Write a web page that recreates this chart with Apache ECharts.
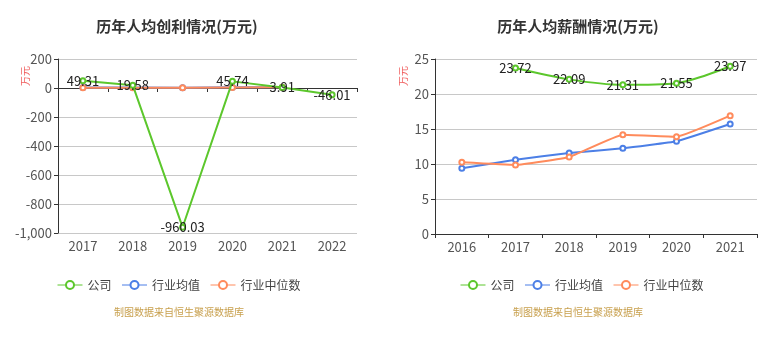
<!DOCTYPE html>
<html><head><meta charset="utf-8">
<script src="https://cdn.jsdelivr.net/npm/echarts@6/dist/echarts.min.js"></script>
<style>html,body{margin:0;padding:0;background:#fff}#c{width:779px;height:337px}</style>
</head><body><div id="c"></div>
<script>
// Left chart: 历年人均创利情况
var profitYears = ['2017','2018','2019','2020','2021','2022'];
var profitCompany = [49.31, 19.58, -960.03, 45.74, 3.91, -46.01];
var profitMean = [3, 4, 2, 5, 6, null];
var profitMedian = [1, 2, 1, 3, 5, null];
var profitTicks = [200, 0, -200, -400, -600, -800, -1000];

// Right chart: 历年人均薪酬情况
var salaryYears = ['2016','2017','2018','2019','2020','2021'];
var salaryCompany = [null, 23.72, 22.09, 21.31, 21.55, 23.97];
var salaryMean = [9.39, 10.6, 11.57, 12.24, 13.24, 15.71];
var salaryMedian = [10.24, 9.86, 11.0, 14.19, 13.9, 16.9];

var seriesNames = ['公司', '行业均值', '行业中位数'];
var colors = ['#5cc72c', '#4c7fe6', '#ff8b5c'];

var chart = echarts.init(document.getElementById('c'));
var font = 'Noto Sans CJK SC, sans-serif';

function lineSeries(name, data, color, xi, yi, smooth, label, z) {
  return {
    name: name, type: 'line', xAxisIndex: xi, yAxisIndex: yi, data: data,
    smooth: smooth, symbol: 'emptyCircle', symbolSize: 5, z: z,
    itemStyle: {color: color}, lineStyle: {width: 2, color: color},
    label: label ? {show: true, position: 'inside', color: '#222', fontSize: 13, fontFamily: font} : {show: false}
  };
}

var baseY = {
  type: 'value',
  axisLine: {show: true, lineStyle: {color: '#333'}},
  axisTick: {show: true, length: 4, lineStyle: {color: '#333'}},
  axisLabel: {color: '#555', fontSize: 13, fontFamily: font, margin: 6},
  splitLine: {lineStyle: {color: '#c8c8c8'}}
};

var legendBase = {data: seriesNames, top: 274, itemWidth: 25, itemHeight: 10, itemGap: 10,
  itemStyle: {borderWidth: 1}, lineStyle: {width: 1},
  textStyle: {fontSize: 12, color: '#444', fontFamily: font}};

chart.setOption({
  animation: false,
  color: colors,
  title: [
    {text: '历年人均创利情况(万元)', left: 172, top: 14, textAlign: 'center',
     textStyle: {fontSize: 15, fontWeight: 'bold', color: '#333', fontFamily: font}},
    {text: '历年人均薪酬情况(万元)', left: 573, top: 14, textAlign: 'center',
     textStyle: {fontSize: 15, fontWeight: 'bold', color: '#333', fontFamily: font}},
    {text: '制图数据来自恒生聚源数据库', left: 174, top: 302, textAlign: 'center',
     textStyle: {fontSize: 10, fontWeight: 'normal', color: '#c8a04e', fontFamily: font}},
    {text: '制图数据来自恒生聚源数据库', left: 573, top: 302, textAlign: 'center',
     textStyle: {fontSize: 10, fontWeight: 'normal', color: '#c8a04e', fontFamily: font}}
  ],
  legend: [
    Object.assign({}, legendBase, {left: 52}),
    Object.assign({}, legendBase, {left: 455})
  ],
  graphic: [
    {type: 'text', left: 20, top: 66, rotation: Math.PI / 2,
     style: {text: '万元', fill: '#f06060', font: '10px ' + font}},
    {type: 'text', left: 398, top: 66, rotation: Math.PI / 2,
     style: {text: '万元', fill: '#f06060', font: '10px ' + font}}
  ],
  grid: [
    {left: 58, right: 422, top: 59, bottom: 104},
    {left: 435, right: 22, top: 59, bottom: 103}
  ],
  xAxis: [
    {gridIndex: 0, type: 'category', data: profitYears, boundaryGap: true,
     axisLine: {show: true, onZero: true, lineStyle: {color: '#333'}},
     axisTick: {show: true, length: 4, lineStyle: {color: '#333'}},
     axisLabel: {show: false}},
    {gridIndex: 0, type: 'category', data: profitYears, boundaryGap: true, position: 'bottom',
     axisLine: {show: false, onZero: false}, axisTick: {show: false},
     axisLabel: {color: '#555', fontSize: 13, fontFamily: font, margin: 7}},
    {gridIndex: 1, type: 'category', data: salaryYears, boundaryGap: true,
     axisLine: {show: true, lineStyle: {color: '#333'}},
     axisTick: {show: true, length: 4, lineStyle: {color: '#333'}},
     axisLabel: {color: '#555', fontSize: 13, fontFamily: font, margin: 7}}
  ],
  yAxis: [
    Object.assign({}, baseY, {gridIndex: 0, min: profitTicks[profitTicks.length - 1], max: profitTicks[0], interval: 200}),
    Object.assign({}, baseY, {gridIndex: 1, min: 0, max: 25, interval: 5})
  ],
  series: [
    lineSeries(seriesNames[1], profitMean, colors[1], 0, 0, false, false, 2),
    lineSeries(seriesNames[2], profitMedian, colors[2], 0, 0, false, false, 3),
    lineSeries(seriesNames[0], profitCompany, colors[0], 0, 0, false, true, 4),
    lineSeries(seriesNames[0], salaryCompany, colors[0], 2, 1, 0.3, true, 4),
    lineSeries(seriesNames[1], salaryMean, colors[1], 2, 1, 0.1, false, 2),
    lineSeries(seriesNames[2], salaryMedian, colors[2], 2, 1, 0.1, false, 3)
  ]
});
</script></body></html>
